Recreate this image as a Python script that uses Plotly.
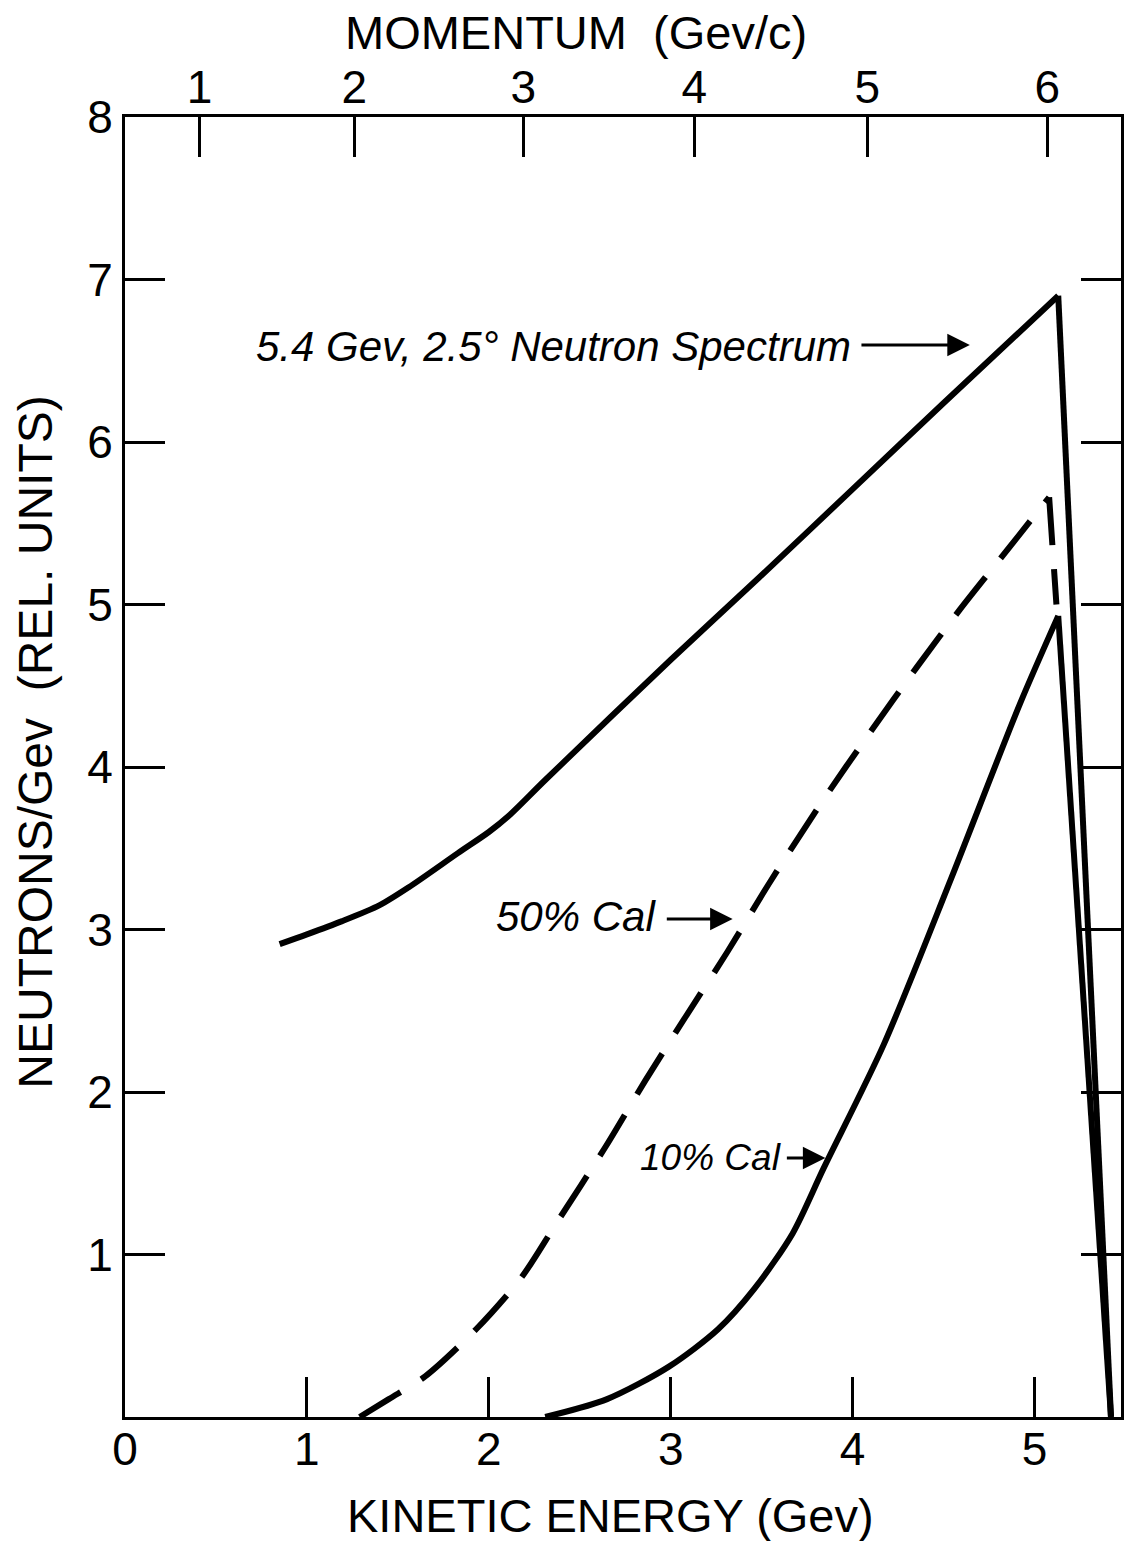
import plotly.graph_objects as go

# Kinetic energy (GeV) and relative neutron yield for each curve
ke_spectrum = [0.85, 1.0, 1.19, 1.4, 1.56, 1.83, 2.0, 2.11, 2.31, 3.0, 3.48, 4.0, 4.5, 5.13, 5.42]
n_spectrum = [2.91, 2.97, 3.05, 3.15, 3.26, 3.47, 3.60, 3.70, 3.92, 4.66, 5.16, 5.71, 6.24, 6.90, 0.0]

ke_cal50 = [1.29, 1.45, 1.65, 1.93, 2.18, 2.37, 2.64, 2.86, 3.08, 3.31, 3.55, 3.84, 4.10, 4.35, 4.59, 4.86, 5.08, 5.12]
n_cal50 = [0.0, 0.11, 0.25, 0.54, 0.86, 1.19, 1.66, 2.07, 2.46, 2.86, 3.30, 3.80, 4.22, 4.61, 4.97, 5.35, 5.66, 5.0]

ke_cal10 = [2.31, 2.65, 2.99, 3.26, 3.46, 3.67, 3.84, 4.17, 4.54, 4.92, 5.13, 5.42]
n_cal10 = [0.0, 0.11, 0.31, 0.54, 0.79, 1.13, 1.53, 2.29, 3.31, 4.39, 4.93, 0.0]

# Axis ticks
ke_ticks = [0, 1, 2, 3, 4, 5]
ke_labels = ["0", "1", "2", "3", "4", "5"]
momentum_tick_ke = [0.41, 1.26, 2.19, 3.13, 4.08, 5.07]
momentum_labels = ["1", "2", "3", "4", "5", "6"]
y_ticks = [1, 2, 3, 4, 5, 6, 7, 8]
y_labels = ["1", "2", "3", "4", "5", "6", "7", "8"]

FONT = "Liberation Sans"
INK = "black"

fig = go.Figure()


def add_curve(ke, n, dash="solid"):
    """Smooth rise up to the peak, then a straight cut-off edge."""
    peak = n.index(max(n))
    fig.add_trace(go.Scatter(x=ke[:peak + 1], y=n[:peak + 1], mode="lines",
                             line=dict(color=INK, width=6, dash=dash,
                                       shape="spline", smoothing=0.8),
                             hoverinfo="skip"))
    fig.add_trace(go.Scatter(x=ke[peak:], y=n[peak:], mode="lines",
                             line=dict(color=INK, width=6, dash=dash),
                             hoverinfo="skip"))


add_curve(ke_spectrum, n_spectrum)
add_curve(ke_cal50, n_cal50, dash="48px,24px")
add_curve(ke_cal10, n_cal10)

# carrier for the momentum scale on the top axis
fig.add_trace(go.Scatter(x=[momentum_tick_ke[0]], y=[0], xaxis="x2", mode="markers",
                         marker=dict(opacity=0), hoverinfo="skip"))

axis_common = dict(showgrid=False, zeroline=False, ticks="inside", ticklen=40,
                   tickwidth=3, tickcolor=INK, tickfont=dict(family=FONT, size=46, color=INK))

fig.update_layout(
    width=1125, height=1541,
    margin=dict(l=125, r=1, t=117, b=124),
    paper_bgcolor="white", plot_bgcolor="white",
    showlegend=False,
    xaxis=dict(range=[0, 5.475], tickvals=ke_ticks, ticktext=ke_labels,
               showline=True, linewidth=3, linecolor=INK, mirror=True,
               ticklabelstandoff=-10, **axis_common),
    xaxis2=dict(range=[0, 5.475], overlaying="x", side="top", anchor="y",
                tickvals=momentum_tick_ke, ticktext=momentum_labels,
                showline=False, ticklabelstandoff=4, **axis_common),
    yaxis=dict(range=[0, 8], tickvals=y_ticks, ticktext=y_labels,
               showline=True, linewidth=3, linecolor=INK, mirror="ticks",
               ticklabelstandoff=0, **axis_common),
)

title_font = dict(family=FONT, size=47, color=INK)
label_font = dict(family=FONT, size=42, color=INK)

annotations = [
    dict(text="MOMENTUM&nbsp; (Gev/c)", xref="paper", yref="paper", x=0.4525, y=1.065,
         showarrow=False, font=title_font, xanchor="center", yanchor="middle"),
    dict(text="KINETIC ENERGY (Gev)", xref="paper", yref="paper", x=0.4875, y=-0.0755,
         showarrow=False, font=title_font, xanchor="center", yanchor="middle"),
    dict(text="NEUTRONS/Gev&nbsp; (REL. UNITS)", xref="paper", yref="paper", x=-0.09, y=0.519,
         showarrow=False, font=dict(family=FONT, size=48, color=INK), textangle=-90,
         xanchor="center", yanchor="middle"),
    dict(text="<i>5.4 Gev, 2.5° Neutron Spectrum</i>", x=0.71, y=6.585, xref="x", yref="y",
         showarrow=False, font=label_font, xanchor="left", yanchor="middle"),
    dict(text="<i>50% Cal</i>", x=2.03, y=3.08, xref="x", yref="y",
         showarrow=False, font=label_font, xanchor="left", yanchor="middle"),
    dict(text="<i>10% Cal</i>", x=2.82, y=1.594, xref="x", yref="y",
         showarrow=False, font=dict(family=FONT, size=37, color=INK),
         xanchor="left", yanchor="middle"),
]

# label pointers: (tail_x, head_x, y)
pointers = [(4.04, 4.644, 6.597), (2.97, 3.34, 3.065), (3.63, 3.85, 1.594)]
for tail, head, yy in pointers:
    annotations.append(dict(text="", x=head, y=yy, ax=tail, ay=yy, xref="x", yref="y",
                            axref="x", ayref="y", showarrow=True, arrowhead=2,
                            arrowsize=1.5, arrowwidth=3, arrowcolor=INK))

fig.update_layout(annotations=annotations)
fig.write_html("out.html")
